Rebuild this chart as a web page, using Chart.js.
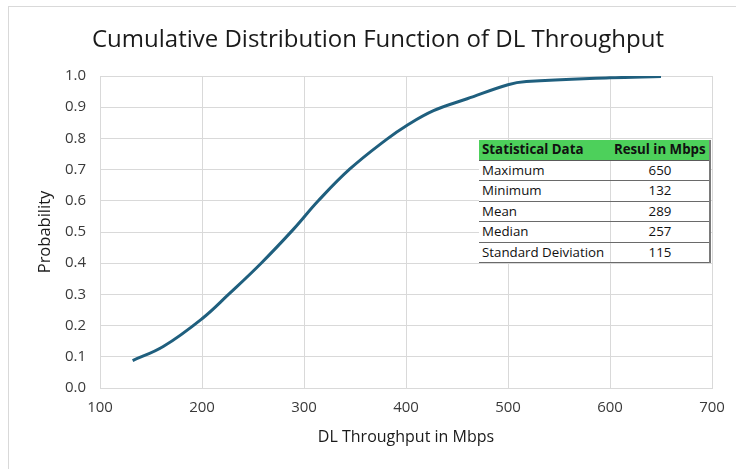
<!DOCTYPE html>
<html>
<head>
<meta charset="utf-8">
<script src="https://cdn.jsdelivr.net/npm/chart.js@4.4.1/dist/chart.umd.min.js"></script>
<style>
  html, body { margin: 0; padding: 0; background: #fff; }
  #wrap { position: relative; width: 736px; height: 469px; overflow: hidden; }
  #frame { position: absolute; left: 8px; top: 6px; width: 760px; height: 500px; border: 1px solid #d9d9d9; box-sizing: border-box; pointer-events: none; }
  canvas { position: absolute; left: 0; top: 0; }
  #stats { position: absolute; left: 479px; top: 140px; width: 232px; border-collapse: collapse; font-family: "Open Sans", sans-serif; font-size: 13.3px; color: #111; background: #fff; border-right: 2px solid #7a7a7a; }
  #stats th, #stats td { height: 19.5px; padding: 0 3px; line-height: 19px; white-space: nowrap; }
  #stats th { background: #4dd05b; font-weight: 700; text-align: left; border-bottom: 1px solid #5a5a5a; }
  #stats th:last-child { text-align: center; }
  #stats td { border-bottom: 1px solid #6a6a6a; }
  #stats td:first-child { text-align: left; width: 125px; border-right: 1px solid #d9d9d9; }
  #stats td:last-child { text-align: center; }
</style>
</head>
<body>
<div id="wrap">
  <canvas id="c" width="736" height="469"></canvas>
  <table id="stats"><thead><tr id="hdr"></tr></thead><tbody id="tb"></tbody></table>
  <div id="frame"></div>
</div>
<script>
const throughputMbps = [132, 162, 200, 226, 258, 290, 314, 345, 381, 400, 427, 460, 500, 518, 600, 650];
const probability = [0.088, 0.133, 0.222, 0.300, 0.400, 0.510, 0.600, 0.702, 0.797, 0.840, 0.889, 0.927, 0.972, 0.982, 0.994, 0.998];
const tableHeaders = ["Statistical Data", "Resul in Mbps"];
const statNames = ["Maximum", "Minimum", "Mean", "Median", "Standard Deiviation"];
const statValues = [650, 132, 289, 257, 115];

// build table
const hdr = document.getElementById('hdr');
tableHeaders.forEach(h => { const th = document.createElement('th'); th.textContent = h; hdr.appendChild(th); });
const tb = document.getElementById('tb');
statNames.forEach((n, i) => {
  const tr = document.createElement('tr');
  const a = document.createElement('td'); a.textContent = n;
  const b = document.createElement('td'); b.textContent = statValues[i];
  tr.appendChild(a); tr.appendChild(b); tb.appendChild(tr);
});

const points = throughputMbps.map((x, i) => ({ x: x, y: probability[i] }));
const gridColor = '#d9d9d9';
const tickColor = '#3a3a3a';
const fontFam = '"Open Sans", sans-serif';

new Chart(document.getElementById('c'), {
  type: 'line',
  data: {
    datasets: [{
      data: points,
      borderColor: '#1f5f7e',
      borderWidth: 3,
      pointRadius: 0,
      fill: false,
      tension: 0.4
    }]
  },
  options: {
    responsive: false,
    animation: false,
    layout: { padding: { left: 20, right: 0, top: 0, bottom: 0 } },
    plugins: {
      legend: { display: false },
      tooltip: { enabled: false },
      title: {
        display: true,
        text: 'Cumulative Distribution Function of DL Throughput',
        color: '#1a1a1a',
        font: { family: fontFam, size: 24, weight: 'normal', lineHeight: 1.25 },
        padding: { top: 25, bottom: 21 }
      }
    },
    scales: {
      x: {
        type: 'linear',
        min: 100, max: 700,
        ticks: { stepSize: 100, color: tickColor, font: { family: fontFam, size: 15 }, padding: 11 },
        grid: { color: gridColor, drawTicks: false },
        border: { color: gridColor },
        title: { display: true, text: 'DL Throughput in Mbps', color: '#1a1a1a', font: { family: fontFam, size: 16 }, padding: { top: 0, bottom: 22 } },
        afterFit: s => { s.height = 81; }
      },
      y: {
        min: 0, max: 1,
        ticks: { stepSize: 0.1, color: tickColor, font: { family: fontFam, size: 15 }, padding: 14, callback: v => v.toFixed(1) },
        grid: { color: gridColor, drawTicks: false },
        border: { color: gridColor },
        title: { display: true, text: 'Probability', color: '#1a1a1a', font: { family: fontFam, size: 16.5 }, padding: { top: 15, bottom: 0 } },
        afterFit: s => { s.width = 80; }
      },
      yRightSpace: {
        position: 'right',
        min: 0, max: 1,
        ticks: { display: false },
        grid: { display: false, drawTicks: false },
        border: { display: false },
        afterFit: s => { s.width = 24; }
      }
    }
  }
});
</script>
</body>
</html>
